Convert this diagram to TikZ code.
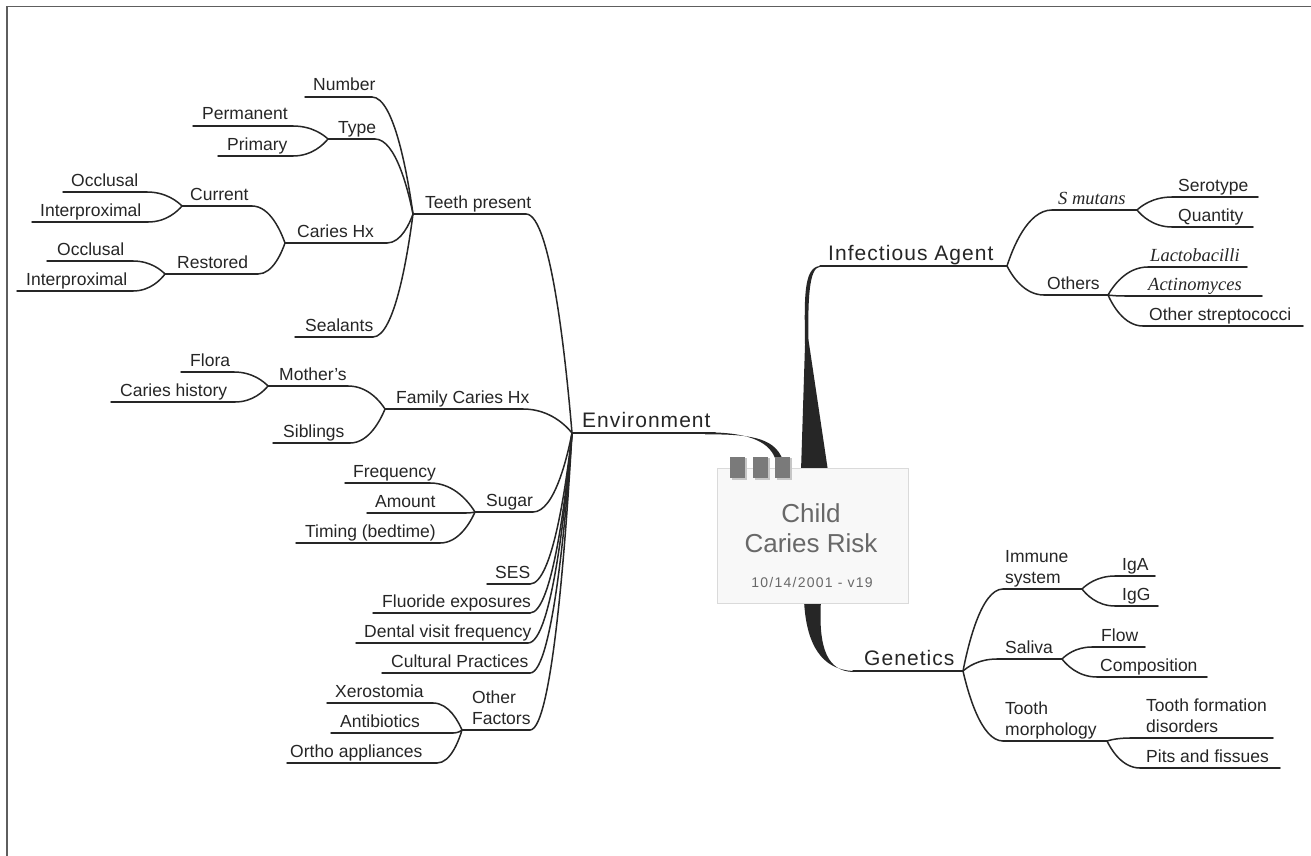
\documentclass[tikz,border=0pt]{standalone}
\usepackage{fontspec}
\setmainfont{Liberation Sans}
\newfontfamily\serifit{Liberation Serif}
\usetikzlibrary{calc}

\definecolor{ink}{HTML}{262626}
\definecolor{boxfill}{HTML}{F8F8F8}
\definecolor{boxline}{HTML}{DADADA}
\definecolor{tabc}{HTML}{7A7A7A}
\definecolor{tabsh}{HTML}{C6C6C6}
\definecolor{ctext}{HTML}{686868}
\definecolor{framec}{HTML}{5E5E5E}

\tikzset{
  br/.style={draw=ink, line width=1.5pt, line cap=round},
  lab/.style={inner sep=0pt, anchor=base west, text=ink, font=\fontsize{17.5}{21}\selectfont},
  big/.style={lab, font=\fontsize{21}{25}\selectfont\addfontfeature{LetterSpace=5}},
  ital/.style={lab, font=\serifit\itshape\fontsize{18.5}{22}\selectfont},
  ctxt/.style={inner sep=0pt, anchor=base, text=ctext},
}

% style, name, text x, underline left, underline right, underline y, text
\newcommand\mmleaf[7][lab]{%
  \node[#1] (#2) at (#3,#6-6) {#7};
  \coordinate (#2-l) at (#4,#6);
  \coordinate (#2-r) at (#5,#6);
  \draw[br] (#2-l) -- (#2-r);}
\newcommand\mmconn[2]{%
  \draw[br] let \p1=(#1), \p2=(#2) in (\p1) .. controls ({\x1+0.55*(\x2-\x1)},\y1) and ({\x2-0.12*(\x2-\x1)},{\y2+0.3*(\y1-\y2)}) .. (\p2);}
\newcommand\twolines[2]{\begin{tabular}[b]{@{}l@{}}#1\\#2\end{tabular}}

\begin{document}
\begin{tikzpicture}[x=1pt,y=-1pt]
\useasboundingbox (0,0) rectangle (1311,856);
\fill[white] (0,0) rectangle (1311,856);
\draw[framec, line width=1.5pt] (7,856) -- (7,6.5) -- (1311,6.5);

% ---------- Environment side ----------
\mmleaf[big]{env}{582}{572}{715}{433}{Environment}

\mmleaf{tp}{425}{413}{526}{214}{Teeth present}
\mmleaf{number}{313}{305}{372}{97}{Number}
\mmleaf{type}{338}{328}{375}{139}{Type}
\mmleaf{perm}{202}{193}{293}{126}{Permanent}
\mmleaf{prim}{227}{218}{293}{156}{Primary}
\mmleaf{ch}{297}{285}{387}{243}{Caries Hx}
\mmleaf{current}{190}{182}{252}{206}{Current}
\mmleaf{occa}{71}{63}{147}{192}{Occlusal}
\mmleaf{inta}{40}{32}{148}{222}{Interproximal}
\mmleaf{restored}{177}{165}{258}{274}{Restored}
\mmleaf{occb}{57}{47}{133}{261}{Occlusal}
\mmleaf{intb}{26}{17}{133}{291}{Interproximal}
\mmleaf{sealants}{305}{295}{373}{337}{Sealants}

\mmleaf{fam}{396}{385}{523}{409}{Family Caries Hx}
\mmleaf{mothers}{279}{268}{348}{386}{Mother's}
\mmleaf{flora}{190}{181}{234}{372}{Flora}
\mmleaf{chist}{120}{111}{235}{402}{Caries history}
\mmleaf{siblings}{283}{273}{350}{443}{Siblings}

\mmleaf{sugar}{486}{475}{533}{512}{Sugar}
\mmleaf{freq}{353}{345}{430}{483}{Frequency}
\mmleaf{amount}{375}{367}{466}{513}{Amount}
\mmleaf{timing}{305}{296}{440}{543}{Timing (bedtime)}

\mmleaf{ses}{495}{487}{530}{584}{SES}
\mmleaf{fluor}{382}{373}{530}{613}{Fluoride exposures}
\mmleaf{dental}{364}{356}{528}{643}{Dental visit frequency}
\mmleaf{cult}{391}{382}{530}{673}{Cultural Practices}
\mmleaf{of}{472}{462}{530}{730}{\twolines{Other}{Factors}}
\mmleaf{xero}{335}{327}{433}{703}{Xerostomia}
\mmleaf{anti}{340}{331}{453}{733}{Antibiotics}
\mmleaf{ortho}{290}{287}{437}{763}{Ortho appliances}

\mmconn{number-r}{tp-l}
\mmconn{type-r}{tp-l}
\mmconn{perm-r}{type-l}
\mmconn{prim-r}{type-l}
\mmconn{ch-r}{tp-l}
\mmconn{current-r}{ch-l}
\mmconn{occa-r}{current-l}
\mmconn{inta-r}{current-l}
\mmconn{restored-r}{ch-l}
\mmconn{occb-r}{restored-l}
\mmconn{intb-r}{restored-l}
\mmconn{sealants-r}{tp-l}
\mmconn{tp-r}{env-l}
\mmconn{mothers-r}{fam-l}
\mmconn{flora-r}{mothers-l}
\mmconn{chist-r}{mothers-l}
\mmconn{siblings-r}{fam-l}
\mmconn{fam-r}{env-l}
\mmconn{sugar-r}{env-l}
\mmconn{freq-r}{sugar-l}
\mmconn{amount-r}{sugar-l}
\mmconn{timing-r}{sugar-l}
\mmconn{ses-r}{env-l}
\mmconn{fluor-r}{env-l}
\mmconn{dental-r}{env-l}
\mmconn{cult-r}{env-l}
\mmconn{of-r}{env-l}
\mmconn{xero-r}{of-l}
\mmconn{anti-r}{of-l}
\mmconn{ortho-r}{of-l}

% ---------- Infectious agent ----------
\mmleaf[big]{ia}{828}{820}{1007}{266}{Infectious Agent}
\mmleaf[ital]{smutans}{1058}{1052}{1137}{210}{S mutans}
\mmleaf{serotype}{1178}{1172}{1258}{197}{Serotype}
\mmleaf{quantity}{1178}{1172}{1253}{227}{Quantity}
\mmleaf{others}{1047}{1044}{1108}{295}{Others}
\mmleaf[ital]{lacto}{1150}{1148}{1247}{267}{Lactobacilli}
\mmleaf[ital]{actino}{1148}{1125}{1262}{296}{Actinomyces}
\mmleaf{ostrep}{1149}{1143}{1303}{326}{Other streptococci}

\mmconn{smutans-l}{ia-r}
\mmconn{others-l}{ia-r}
\mmconn{serotype-l}{smutans-r}
\mmconn{quantity-l}{smutans-r}
\mmconn{lacto-l}{others-r}
\mmconn{actino-l}{others-r}
\mmconn{ostrep-l}{others-r}

% ---------- Genetics ----------
\mmleaf[big]{ge}{864}{853}{963}{671}{Genetics}
\mmleaf{immune}{1005}{1003}{1082}{589}{\twolines{Immune}{system}}
\mmleaf{iga}{1122}{1115}{1155}{576}{IgA}
\mmleaf{igg}{1122}{1115}{1158}{606}{IgG}
\mmleaf{saliva}{1005}{997}{1062}{659}{Saliva}
\mmleaf{flow}{1101}{1092}{1145}{647}{Flow}
\mmleaf{comp}{1100}{1097}{1207}{677}{Composition}
\mmleaf{tmorph}{1005}{1003}{1107}{741}{\twolines{Tooth}{morphology}}
\mmleaf{tform}{1146}{1130}{1273}{738}{\twolines{Tooth formation}{disorders}}
\mmleaf{pits}{1146}{1140}{1280}{768}{Pits and fissues}

\mmconn{immune-l}{ge-r}
\mmconn{saliva-l}{ge-r}
\mmconn{tmorph-l}{ge-r}
\mmconn{iga-l}{immune-r}
\mmconn{igg-l}{immune-r}
\mmconn{flow-l}{saliva-r}
\mmconn{comp-l}{saliva-r}
\mmconn{tform-l}{tmorph-r}
\mmconn{pits-l}{tmorph-r}

% ---------- tapered main branches ----------
\fill[ink] (env-r) ++(-10,-0.7) .. controls (745,432.2) and (768,440) .. (775,458)
  -- (782,458) .. controls (773,437) and (748,434.3) .. (705,434.3) -- cycle;
\fill[ink] (801,471) -- (805,345) .. controls (804.5,300) and (803,267) .. (ia-l)
  -- ++(0,0.8) .. controls (809,267.3) and (807.8,300) .. (808.5,340) -- (828,471) -- cycle;
\fill[ink] (804,600) .. controls (806,645) and (822,669.6) .. (ge-l)
  -- ++(0,1) .. controls (828,671) and (818,650) .. (821,600) -- cycle;

% ---------- central topic ----------
\node[draw=boxline, fill=boxfill, line width=0.8pt, minimum width=191pt, minimum height=135pt, inner sep=0pt]
  (root) at (812.5,535.5) {};
\node[ctxt, font=\fontsize{26}{30}\selectfont] (rt1) at (811,522) {Child};
\node[ctxt, font=\fontsize{26}{30}\selectfont] (rt2) at (811,552) {Caries Risk};
\node[ctxt, font=\fontsize{14}{17}\selectfont\addfontfeature{LetterSpace=9}] (rt3) at (812,587) {10/14/2001 - v19};
\foreach \tx in {730,753,775}{
  \fill[tabsh] (\tx+2,458) rectangle (\tx+17,479.5);
  \fill[tabc] (\tx,457) rectangle (\tx+15,478);
}
\end{tikzpicture}
\end{document}
